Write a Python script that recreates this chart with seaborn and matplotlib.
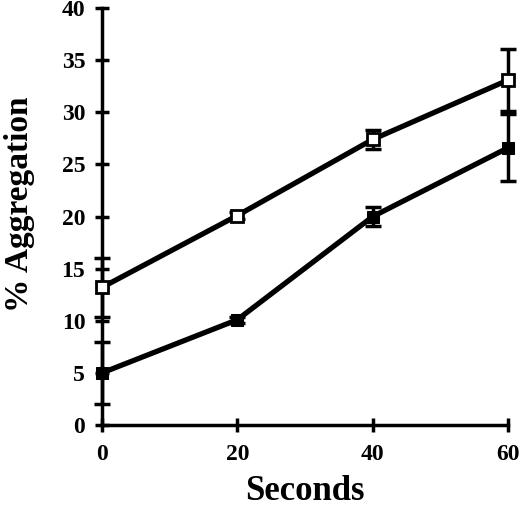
import matplotlib
matplotlib.use("Agg")
import matplotlib.pyplot as plt
import seaborn as sns
import pandas as pd

seconds = [0, 20, 40, 60]
open_vals = [13.2, 20.1, 27.4, 33.1]
open_err = [2.8, 0.3, 0.9, 3.0]
filled_vals = [5.0, 10.1, 20.0, 26.6]
filled_err = [3.0, 0.3, 0.9, 3.2]

sns.set_theme(style="ticks")
plt.rcParams['font.family'] = ['Liberation Serif', 'DejaVu Serif']
plt.rcParams['font.weight'] = 'bold'

fig = plt.figure(figsize=(5.2, 5.09), dpi=100)
ax = fig.add_axes([0.196, 0.165, 0.781, 0.819])

df_open = pd.DataFrame({"Seconds": seconds, "val": open_vals})
df_filled = pd.DataFrame({"Seconds": seconds, "val": filled_vals})

for vals, err in [(open_vals, open_err), (filled_vals, filled_err)]:
    eb = ax.errorbar(seconds, vals, yerr=err, fmt='none', ecolor='black',
                     elinewidth=2.5, capsize=5.5, capthick=2.5, zorder=2, clip_on=False)
    for cl in eb[1]:
        cl.set_clip_on(False)
    for lc in eb[2]:
        lc.set_clip_on(False)

sns.lineplot(data=df_open, x="Seconds", y="val", color="black",
             marker="s", markersize=8.5, markerfacecolor="white",
             markeredgecolor="black", markeredgewidth=2,
             linewidth=3.8, ax=ax, zorder=3, clip_on=False)
sns.lineplot(data=df_filled, x="Seconds", y="val", color="black",
             marker="s", markersize=8.5, markerfacecolor="black",
             markeredgecolor="black",
             linewidth=3.8, ax=ax, zorder=3, clip_on=False)

ax.set_xlim(0, 60)
ax.set_ylim(0, 40)
ax.set_xticks([0, 20, 40, 60])
ax.set_yticks(range(0, 41, 5))
ax.tick_params(direction='inout', length=10, width=2.5, labelsize=17, pad=7,
               color='black', labelcolor='black')
ax.tick_params(axis='x', pad=9)
for lab in ax.get_xticklabels() + ax.get_yticklabels():
    lab.set_fontweight('bold')
sns.despine(ax=ax)
for s in ['left', 'bottom']:
    ax.spines[s].set_linewidth(2.5)
    ax.spines[s].set_color('black')
ax.set_xlabel("Seconds", fontsize=25, fontweight='bold', color='black')
ax.set_ylabel("% Aggregation", fontsize=24, fontweight='bold', color='black')
ax.xaxis.set_label_coords(0.5, -0.12)
ax.yaxis.set_label_coords(-0.165, 0.53)

fig.savefig("out.png", dpi=100)
